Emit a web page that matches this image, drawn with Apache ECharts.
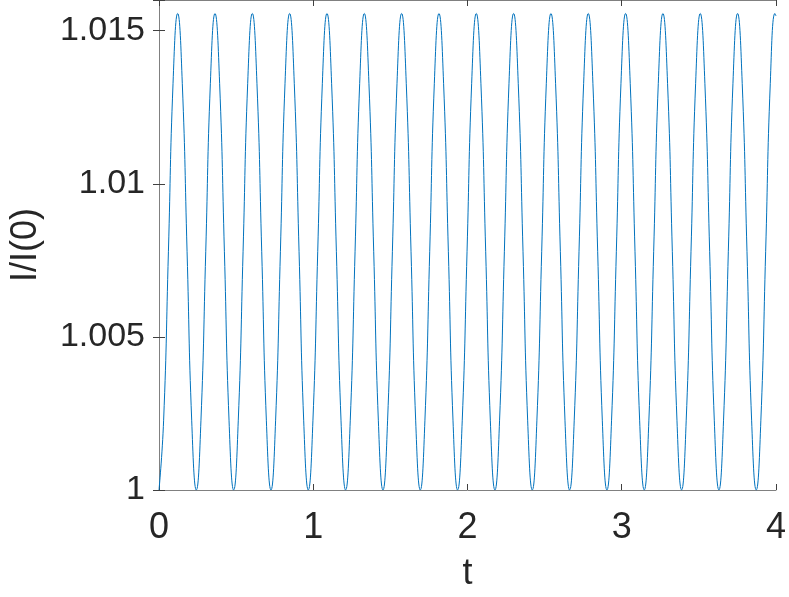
<!DOCTYPE html>
<html>
<head>
<meta charset="utf-8">
<script src="https://cdn.jsdelivr.net/npm/echarts@6/dist/echarts.min.js"></script>
<style>
  html, body { margin: 0; padding: 0; background: #fff; }
  #chart { width: 789px; height: 597px; }
</style>
</head>
<body>
<div id="chart"></div>
<script>
// samples, every 1/8 of a period (period ~0.242)
const tValues = [
  0, 0.030, 0.061, 0.091, 0.121, 0.151, 0.182, 0.212,
  0.242, 0.272, 0.303, 0.333, 0.363, 0.393, 0.424, 0.454,
  0.484, 0.514, 0.545, 0.575, 0.605, 0.635, 0.666, 0.696,
  0.726, 0.756, 0.787, 0.817, 0.847, 0.877, 0.908, 0.938,
  0.968, 0.998, 1.029, 1.059, 1.089, 1.119, 1.150, 1.180,
  1.210, 1.240, 1.271, 1.301, 1.331, 1.361, 1.392, 1.422,
  1.452, 1.482, 1.513, 1.543, 1.573, 1.603, 1.634, 1.664,
  1.694, 1.724, 1.755, 1.785, 1.815, 1.845, 1.876, 1.906,
  1.936, 1.966, 1.997, 2.027, 2.057, 2.087, 2.118, 2.148,
  2.178, 2.208, 2.239, 2.269, 2.299, 2.329, 2.360, 2.390,
  2.420, 2.450, 2.481, 2.511, 2.541, 2.571, 2.602, 2.632,
  2.662, 2.692, 2.723, 2.753, 2.783, 2.813, 2.844, 2.874,
  2.904, 2.934, 2.965, 2.995, 3.025, 3.055, 3.086, 3.116,
  3.146, 3.176, 3.207, 3.237, 3.267, 3.297, 3.328, 3.358,
  3.388, 3.418, 3.449, 3.479, 3.509, 3.539, 3.570, 3.600,
  3.630, 3.660, 3.691, 3.721, 3.751, 3.781, 3.812, 3.842,
  3.872, 3.902, 3.933, 3.963, 3.993, 4.000
]
const ratioValues = [
  1, 1.00228, 1.00778, 1.01328, 1.01556, 1.01328, 1.00778, 1.00228,
  1, 1.00228, 1.00778, 1.01328, 1.01556, 1.01328, 1.00778, 1.00228,
  1, 1.00228, 1.00778, 1.01328, 1.01556, 1.01328, 1.00778, 1.00228,
  1, 1.00228, 1.00778, 1.01328, 1.01556, 1.01328, 1.00778, 1.00228,
  1, 1.00228, 1.00778, 1.01328, 1.01556, 1.01328, 1.00778, 1.00228,
  1, 1.00228, 1.00778, 1.01328, 1.01556, 1.01328, 1.00778, 1.00228,
  1, 1.00228, 1.00778, 1.01328, 1.01556, 1.01328, 1.00778, 1.00228,
  1, 1.00228, 1.00778, 1.01328, 1.01556, 1.01328, 1.00778, 1.00228,
  1, 1.00228, 1.00778, 1.01328, 1.01556, 1.01328, 1.00778, 1.00228,
  1, 1.00228, 1.00778, 1.01328, 1.01556, 1.01328, 1.00778, 1.00228,
  1, 1.00228, 1.00778, 1.01328, 1.01556, 1.01328, 1.00778, 1.00228,
  1, 1.00228, 1.00778, 1.01328, 1.01556, 1.01328, 1.00778, 1.00228,
  1, 1.00228, 1.00778, 1.01328, 1.01556, 1.01328, 1.00778, 1.00228,
  1, 1.00228, 1.00778, 1.01328, 1.01556, 1.01328, 1.00778, 1.00228,
  1, 1.00228, 1.00778, 1.01328, 1.01556, 1.01328, 1.00778, 1.00228,
  1, 1.00228, 1.00778, 1.01328, 1.01556, 1.01328, 1.00778, 1.00228,
  1, 1.00228, 1.00778, 1.01328, 1.01556, 1.01548
]
const xTicks = [0, 1, 2, 3, 4]
const yTicks = [1, 1.005, 1.01, 1.015]

const textColor = '#262626'
const font = 'Liberation Sans, Arial, Helvetica, sans-serif'

const chart = echarts.init(document.getElementById('chart'))
const points = tValues.map((t, i) => [t, ratioValues[i]])

const option = {
  animation: false,
  grid: { left: 155, right: 8, top: -1, bottom: 107 },
  xAxis: [
    {
      type: 'value',
      min: xTicks[0],
      max: xTicks[xTicks.length - 1],
      interval: 1,
      name: 't',
      nameLocation: 'middle',
      nameGap: 66,
      nameTextStyle: { color: textColor, fontSize: 36, fontFamily: font },
      axisLine: { show: true, lineStyle: { color: '#808080', width: 1 } },
      axisTick: { show: true, inside: true, length: 6, lineStyle: { color: '#404040' } },
      axisLabel: { color: textColor, fontSize: 36, fontFamily: font, margin: 20 },
      splitLine: { show: false }
    },
    {
      type: 'value',
      position: 'top',
      min: xTicks[0],
      max: xTicks[xTicks.length - 1],
      interval: 1,
      axisLine: { show: true, lineStyle: { color: '#808080', width: 1 } },
      axisTick: { show: true, inside: true, length: 6, lineStyle: { color: '#404040' } },
      axisLabel: { show: false },
      splitLine: { show: false }
    }
  ],
  yAxis: [
    {
      type: 'value',
      min: 1,
      max: 1.016,
      interval: 0.005,
      name: 'I/I(0)',
      nameLocation: 'middle',
      nameGap: 115,
      nameRotate: 90,
      nameTextStyle: { color: textColor, fontSize: 36, fontFamily: font },
      axisLine: { show: true, lineStyle: { color: '#262626', width: 1 } },
      axisTick: { show: true, inside: true, length: 6, lineStyle: { color: '#404040' } },
      axisLabel: {
        color: textColor, fontSize: 34, fontFamily: font, margin: 14,
        formatter: v => (yTicks.some(y => Math.abs(y - v) < 1e-9) ? String(+v.toFixed(3)) : '')
      },
      splitLine: { show: false }
    },
    {
      type: 'value',
      position: 'right',
      min: 1,
      max: 1.016,
      interval: 0.005,
      axisLine: { show: true, lineStyle: { color: '#808080', width: 1 } },
      axisTick: { show: true, inside: true, length: 6, lineStyle: { color: '#404040' } },
      axisLabel: { show: false },
      splitLine: { show: false }
    }
  ],
  series: [
    {
      type: 'line',
      data: points,
      smooth: 0.5,
      showSymbol: false,
      lineStyle: { color: '#0072BD', width: 1 }
    }
  ]
}
chart.setOption(option)
</script>
</body>
</html>
